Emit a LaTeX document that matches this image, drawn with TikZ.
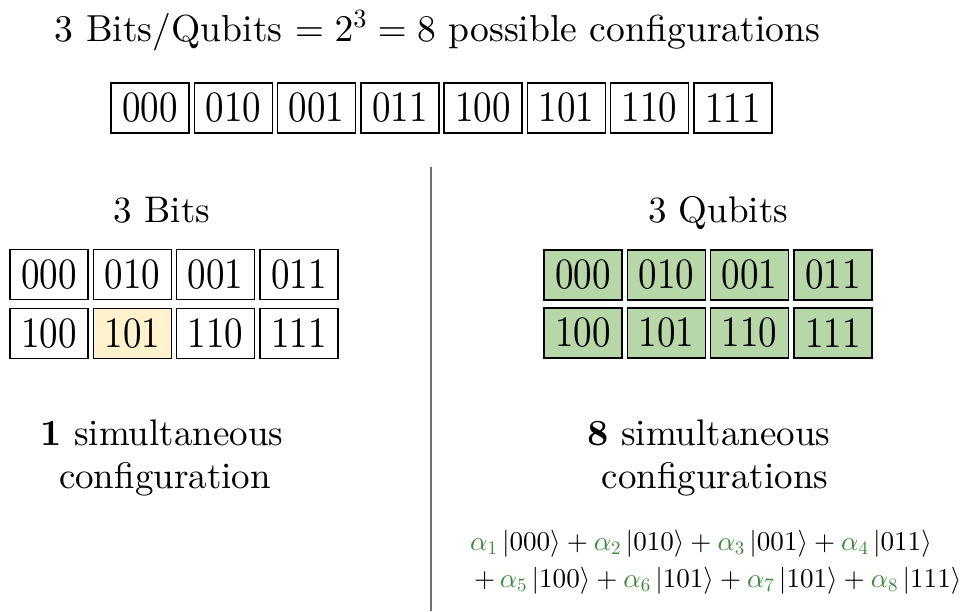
\documentclass[tikz,border=0pt]{standalone}
\usepackage{amsmath}
\usepackage{graphicx}
\usepackage{fontspec}
\setmainfont{lmroman10}[Extension=.otf,UprightFont=*-regular,BoldFont=*-bold,ItalicFont=*-italic,BoldItalicFont=*-bolditalic]
\DeclareFontShape{OML}{cmm}{m}{it}{<->cmmi10}{}
\DeclareFontShape{OMS}{cmsy}{m}{n}{<->cmsy10}{}
\DeclareFontShape{OT1}{cmr}{m}{n}{<->cmr10}{}
\DeclareFontShape{OMX}{cmex}{m}{n}{<->cmex10}{}
\definecolor{qgreen}{HTML}{B7D7A8}
\definecolor{cyellow}{HTML}{FFF2CC}
\definecolor{agreen}{HTML}{3A8A3C}
\definecolor{divgray}{HTML}{707070}
\newcommand{\myket}[1]{\lvert #1\rangle}
\newcommand{\al}[1]{{\color{agreen}\alpha_{#1}}}
\newcommand{\cd}[1]{\scalebox{1}[1.17]{#1}}
\begin{document}
\begin{tikzpicture}[x=1pt,y=-1pt,
  cell/.style={draw=black, line width=1.6pt, minimum width=78pt, minimum height=50pt, inner sep=0pt, font=\fontsize{37}{44}\selectfont},
  qcell/.style={cell, fill=qgreen},
  ycell/.style={cell, fill=cyellow},
  big/.style={font=\fontsize{37}{44}\selectfont, inner sep=0pt},
  eqtext/.style={font=\fontsize{27.1}{31}\selectfont, inner sep=0pt, anchor=base west}]
\useasboundingbox (0,0) rectangle (960,611);
\node[big, anchor=base, font=\fontsize{37.6}{44}\selectfont] (title) at (437.5,41) {3 Bits/Qubits $= 2^3 = 8$ possible configurations};
\foreach \t [count=\i from 0] in {000,010,001,011,100,101,110,111}
  \node[cell] (t\i) at (150.1+83.25*\i,108) {\cd{\t}};
\coordinate (dtop) at (431,167);
\coordinate (dbot) at (431,611);
\draw[divgray, line width=1.5pt] (dtop) -- (dbot);
\node[big, anchor=base] (bits) at (162,222) {3 Bits};
\node[big, anchor=base] (qubits) at (718,222) {3 Qubits};
\foreach \t [count=\i from 0] in {000,010,001,011}
  \node[cell] (l\i) at (49.1+83.25*\i,274.5) {\cd{\t}};
\node[cell] (l4) at (49.1,333.5) {\cd{100}};
\node[ycell] (l5) at (132.35,333.5) {\cd{101}};
\node[cell] (l6) at (215.6,333.5) {\cd{110}};
\node[cell] (l7) at (298.85,333.5) {\cd{111}};
\foreach \t [count=\i from 0] in {000,010,001,011}
  \node[qcell] (r\i) at (583.1+83.25*\i,275) {\cd{\t}};
\foreach \t [count=\i from 4] in {100,101,110,111}
  \node[qcell] (r\i) at (583.1+83.25*\i-333,333) {\cd{\t}};
\node[big, anchor=base] (one) at (162,445) {\textbf{1} simultaneous};
\node[big, anchor=base] (conf1) at (165,488) {configuration};
\node[big, anchor=base] (eight) at (709,445) {\textbf{8} simultaneous};
\node[big, anchor=base] (conf8) at (715,488) {configurations};
\node[eqtext] (eq1) at (470,550) {$\al1\,\myket{000} + \al2\,\myket{010} + \al3\,\myket{001} + \al4\,\myket{011}$};
\node[eqtext] (eq2) at (474,587) {$+\, \al5\,\myket{100} + \al6\,\myket{101} + \al7\,\myket{101} + \al8\,\myket{111}$};
\end{tikzpicture}
\end{document}
